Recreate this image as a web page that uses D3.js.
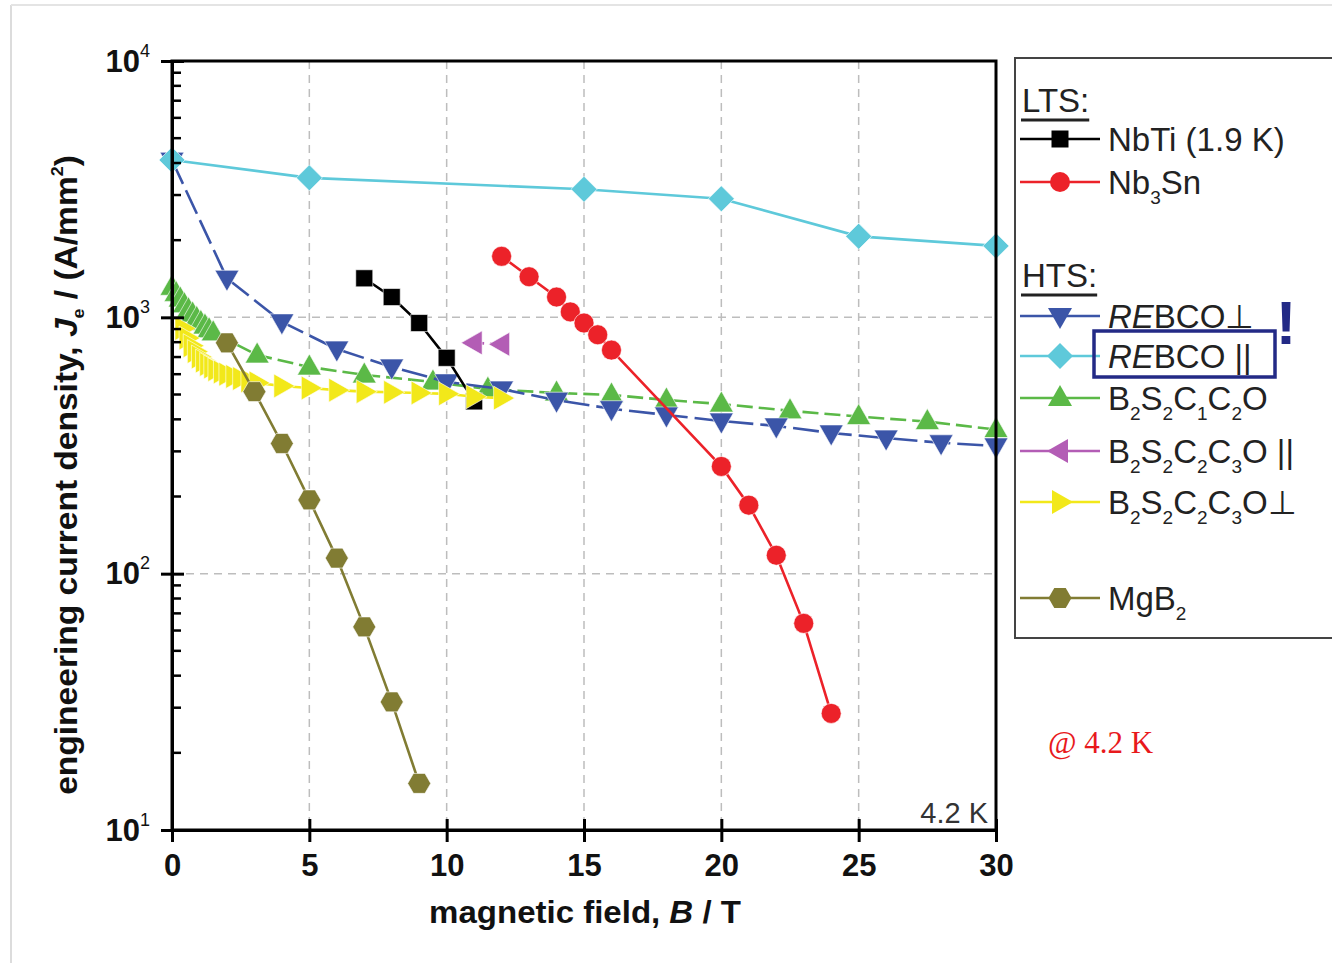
<!DOCTYPE html>
<html><head><meta charset="utf-8">
<script src="https://cdn.jsdelivr.net/npm/d3@7/dist/d3.min.js"></script>
<style>
html,body{margin:0;padding:0;background:#fff;}
svg{display:block;font-family:"Liberation Sans",Arial,sans-serif;}
</style></head>
<body>
<svg id="c" width="1332" height="963"></svg>
<script>
// ---------- data (B in T, Je in A/mm^2) ----------
const xTicks = [0, 5, 10, 15, 20, 25, 30];
const yDecades = [10, 100, 1000, 10000];
const yExps = ["1", "2", "3", "4"];

const nbtiB  = [7, 8, 9, 10, 11];
const nbtiJ  = [1420, 1200, 950, 695, 470];

const nb3snB = [12, 13, 14, 14.5, 15, 15.5, 16, 20, 21, 22, 23, 24];
const nb3snJ = [1730, 1440, 1200, 1050, 950, 855, 745, 262, 185, 118, 64, 28.5];

const rebcoPerpB = [0, 2, 4, 6, 8, 10, 12, 14, 16, 18, 20, 22, 24, 26, 28, 30];
const rebcoPerpJ = [4100, 1420, 960, 752, 640, 560, 525, 475, 440, 416, 394, 377, 354, 338, 324, 315];

const rebcoParB = [0, 5, 15, 20, 25, 30];
const rebcoParJ = [4110, 3500, 3160, 2900, 2070, 1900];

const b2s2c1c2oB = [0, 0.15, 0.3, 0.45, 0.6, 0.75, 0.9, 1.05, 1.2, 1.35, 1.5, 3.1, 5, 7, 9.5, 11.5, 14, 16, 18, 20, 22.5, 25, 27.5, 30];
const b2s2c1c2oJ = [1310, 1240, 1180, 1120, 1070, 1030, 990, 955, 925, 895, 870, 713, 640, 596, 560, 525, 507, 498, 476, 459, 432, 410, 392, 365];

const b2s2c2c3oParB = [11, 12];
const b2s2c2c3oParJ = [795, 785];

const b2s2c2c3oPerpB = [0.4, 0.55, 0.7, 0.85, 1.0, 1.15, 1.3, 1.45, 1.6, 1.8, 2.0, 2.25, 2.5, 2.8, 3.1, 4, 5, 6, 7, 8, 9, 10, 11, 12];
const b2s2c2c3oPerpJ = [905, 830, 775, 735, 700, 675, 655, 640, 625, 612, 600, 588, 577, 565, 555, 540, 530, 520, 513, 510, 507, 503, 490, 484];

const mgb2B = [2, 3, 4, 5, 6, 7, 8, 9];
const mgb2J = [795, 513, 322, 194, 115, 62, 31.6, 15.2];

// ---------- series table ----------
const series = [
  {name:"b2s2c1c2o", B:b2s2c1c2oB, J:b2s2c1c2oJ, color:"#5bb947", shape:"triUp", dash:"16,6"},
  {name:"rebcoPerp", B:rebcoPerpB, J:rebcoPerpJ, color:"#3b55a8", shape:"triDown", dash:"26,7"},
  {name:"nbti", B:nbtiB, J:nbtiJ, color:"#000000", shape:"square", dash:null},
  {name:"b2s2c2c3oPerp", B:b2s2c2c3oPerpB, J:b2s2c2c3oPerpJ, color:"#f2e81a", shape:"triRight", dash:null},
  {name:"b2s2c2c3oPar", B:b2s2c2c3oParB, J:b2s2c2c3oParJ, color:"#b35db5", shape:"triLeft", dash:"10,6"},
  {name:"nb3sn", B:nb3snB, J:nb3snJ, color:"#ec2229", shape:"circle", dash:null},
  {name:"mgb2", B:mgb2B, J:mgb2J, color:"#817c33", shape:"hex", dash:null},
  {name:"rebcoPar", B:rebcoParB, J:rebcoParJ, color:"#5ec9da", shape:"diamond", dash:null}
];

// ---------- geometry ----------
const svg = d3.select("#c");
const L = 172, R = 996, T = 61, Bt = 830;
const x = d3.scaleLinear().domain([0, 30]).range([L, R]);
const y = d3.scaleLog().domain([10, 10000]).range([Bt, T]);

function shapePath(s) {
  const p = pts => "M" + pts.map(q => q.join(",")).join("L") + "Z";
  switch (s) {
    case "square": return p([[-8.5,-8.5],[8.5,-8.5],[8.5,8.5],[-8.5,8.5]]);
    case "circle": return "M10,0A10,10 0 1,1 -10,0A10,10 0 1,1 10,0Z";
    case "triUp": return p([[0,-13],[12,8],[-12,8]]);
    case "triDown": return p([[0,13],[12,-8],[-12,-8]]);
    case "triLeft": return p([[-13,0],[8,-12],[8,12]]);
    case "triRight": return p([[13,0],[-8,-12],[-8,12]]);
    case "diamond": return p([[0,-13],[13,0],[0,13],[-13,0]]);
    case "hex": {
      const a = [];
      for (let i = 0; i < 6; i++) { const t = Math.PI/3*i; a.push([11.5*Math.cos(t), 11.5*Math.sin(t)]); }
      return p(a);
    }
  }
}

// fit a text element to a target width by horizontal scaling about its anchor
function fitWidth(sel, target) {
  const w = sel.node().getComputedTextLength();
  return target / w;
}

// outer faint frame of the picture
svg.append("line").attr("x1",11).attr("x2",11).attr("y1",5).attr("y2",963).attr("stroke","#dcdcdc").attr("stroke-width",2);
svg.append("line").attr("x1",11).attr("x2",1332).attr("y1",5).attr("y2",5).attr("stroke","#e4e4e4").attr("stroke-width",2);

// grid
const grid = svg.append("g").attr("stroke","#bdbdbd").attr("stroke-width",1.5).attr("stroke-dasharray","8,6");
xTicks.filter(v => v > 0 && v < 30).forEach(v => {
  grid.append("line").attr("x1",x(v)).attr("x2",x(v)).attr("y1",T).attr("y2",Bt);
});
yDecades.filter(v => v > 10 && v < 10000).forEach(v => {
  grid.append("line").attr("x1",L).attr("x2",R).attr("y1",y(v)).attr("y2",y(v));
});

// series lines & markers
const line = d3.line().x(d => x(d[0])).y(d => y(d[1]));
series.forEach(s => {
  const data = s.B.map((b, i) => [b, s.J[i]]);
  const g = svg.append("g");
  g.append("path").attr("d", line(data)).attr("fill","none").attr("stroke", s.color)
    .attr("stroke-width", 2.6).attr("stroke-dasharray", s.dash);
  g.selectAll("path.m").data(data).enter().append("path").attr("class","m")
    .attr("transform", d => `translate(${x(d[0])},${y(d[1])})`)
    .attr("d", shapePath(s.shape)).attr("fill", s.color)
    .attr("stroke","#ffffff").attr("stroke-opacity",0.6).attr("stroke-width",1);
});

// frame
svg.append("rect").attr("x",L).attr("y",T).attr("width",R-L).attr("height",Bt-T)
  .attr("fill","none").attr("stroke","#000").attr("stroke-width",3);

// x axis
const xAxis = svg.append("g").attr("transform",`translate(0,${Bt})`)
  .call(d3.axisBottom(x).tickValues(xTicks).tickSizeInner(12).tickSizeOuter(0).tickPadding(14));
xAxis.select(".domain").attr("stroke","#000").attr("stroke-width",3);
xAxis.selectAll(".tick line").attr("y1",-11).attr("y2",12).attr("stroke","#000").attr("stroke-width",3);
xAxis.selectAll(".tick text").attr("font-size",31).attr("font-weight","bold").attr("fill","#111")
  .attr("font-family","Liberation Sans, Arial, sans-serif").attr("dy","0.66em");

// y axis
const yAxis = svg.append("g").attr("transform",`translate(${L},0)`)
  .call(d3.axisLeft(y).tickValues(yDecades).tickSizeInner(11).tickSizeOuter(0).tickFormat(""));
yAxis.select(".domain").attr("stroke","#000").attr("stroke-width",3);
yAxis.selectAll(".tick line").attr("x1",12).attr("x2",-11).attr("stroke","#000").attr("stroke-width",3);
yAxis.selectAll(".tick").each(function(d, i) {
  const t = d3.select(this).append("text").attr("x",-22).attr("y",10).attr("text-anchor","end")
    .attr("fill","#111").attr("font-family","Liberation Sans, Arial, sans-serif");
  t.append("tspan").attr("font-size",31).attr("font-weight","bold").text("10");
  t.append("tspan").attr("font-size",18).attr("dy",-15).text(yExps[i]);
});
// minor ticks
const minors = [];
yDecades.slice(0, 3).forEach(dv => { for (let k = 2; k <= 9; k++) minors.push(dv * k); });
svg.append("g").selectAll("line").data(minors).enter().append("line")
  .attr("x1",L).attr("x2",L+9).attr("y1",d=>y(d)).attr("y2",d=>y(d))
  .attr("stroke","#000").attr("stroke-width",2.5);

// axis titles
const xt = svg.append("text").attr("text-anchor","middle")
  .attr("font-size",32).attr("font-weight","bold").attr("fill","#111");
xt.append("tspan").text("magnetic field, ");
xt.append("tspan").attr("font-style","italic").text("B");
xt.append("tspan").text(" / T");
const sx = fitWidth(xt, 312);
xt.attr("transform", `translate(585,923) scale(${sx},1)`);

const yt = svg.append("text").attr("text-anchor","middle")
  .attr("font-size",32).attr("font-weight","bold").attr("fill","#111");
yt.append("tspan").text("engineering current density, ");
yt.append("tspan").attr("font-style","italic").text("J");
yt.append("tspan").attr("font-size",17).attr("dy",7).text("e");
yt.append("tspan").attr("dy",-7).text(" / (A/mm");
yt.append("tspan").attr("font-size",17).attr("dy",-14).text("2");
yt.append("tspan").attr("dy",14).text(")");
const sy = fitWidth(yt, 640);
yt.attr("transform", `translate(77,475) rotate(-90) scale(${sy},1)`);

// 4.2 K inside
svg.append("text").attr("x",988).attr("y",823).attr("text-anchor","end").attr("font-size",29)
  .attr("fill","#333").text("4.2 K");

// ---------- legend ----------
const lg = svg.append("g");
lg.append("path").attr("d","M1340,58 L1015,58 L1015,638 L1340,638").attr("fill","none")
  .attr("stroke","#444").attr("stroke-width",2);

function heading(txt, yy) {
  const t = lg.append("text").attr("x",1022).attr("y",yy).attr("font-size",33).attr("fill","#222").text(txt);
  const w = t.node().getComputedTextLength();
  lg.append("line").attr("x1",1021).attr("x2",1022+w).attr("y1",yy+8).attr("y2",yy+8).attr("stroke","#222").attr("stroke-width",3);
}
heading("LTS:", 112);
heading("HTS:", 287);

const legendItems = [
  {s:"nbti", y:139, parts:[["NbTi (1.9 K)",0]]},
  {s:"nb3sn", y:182, parts:[["Nb",0],["3",1],["Sn",0]]},
  {s:"rebcoPerp", y:316, parts:[["RE",2],["BCO\u22A5",0]]},
  {s:"rebcoPar", y:356, parts:[["RE",2],["BCO ||",0]]},
  {s:"b2s2c1c2o", y:398, parts:[["B",0],["2",1],["S",0],["2",1],["C",0],["1",1],["C",0],["2",1],["O",0]]},
  {s:"b2s2c2c3oPar", y:451, parts:[["B",0],["2",1],["S",0],["2",1],["C",0],["2",1],["C",0],["3",1],["O ||",0]]},
  {s:"b2s2c2c3oPerp", y:502, parts:[["B",0],["2",1],["S",0],["2",1],["C",0],["2",1],["C",0],["3",1],["O\u22A5",0]]},
  {s:"mgb2", y:598, parts:[["MgB",0],["2",1]]}
];
legendItems.forEach(it => {
  const s = series.find(q => q.name === it.s);
  lg.append("line").attr("x1",1020).attr("x2",1100).attr("y1",it.y).attr("y2",it.y)
    .attr("stroke",s.color).attr("stroke-width",2.6);
  lg.append("path").attr("transform",`translate(1060,${it.y})`).attr("d",shapePath(s.shape)).attr("fill",s.color);
  const t = lg.append("text").attr("x",1108).attr("y",it.y+12).attr("font-size",33).attr("fill","#222");
  let sub = false;
  it.parts.forEach(([str, kind]) => {
    const ts = t.append("tspan").text(str);
    if (kind === 1) { ts.attr("font-size",19).attr("dy", sub ? 0 : 10); sub = true; }
    else { if (sub) ts.attr("dy",-10); sub = false; if (kind === 2) ts.attr("font-style","italic"); }
  });
});

// annotations
svg.append("rect").attr("x",1094).attr("y",331).attr("width",181).attr("height",46)
  .attr("fill","none").attr("stroke","#232a86").attr("stroke-width",3.5);
svg.append("text").attr("x",1286).attr("y",344).attr("text-anchor","middle").attr("font-size",62)
  .attr("font-weight","bold").attr("fill","#232a86").attr("font-family","Liberation Sans, Arial, sans-serif").text("!");
svg.append("text").attr("x",1048).attr("y",753).attr("font-size",31).attr("fill","#e8191c")
  .attr("font-family","Liberation Serif, Times New Roman, serif").text("@ 4.2 K");
</script>
</body></html>
